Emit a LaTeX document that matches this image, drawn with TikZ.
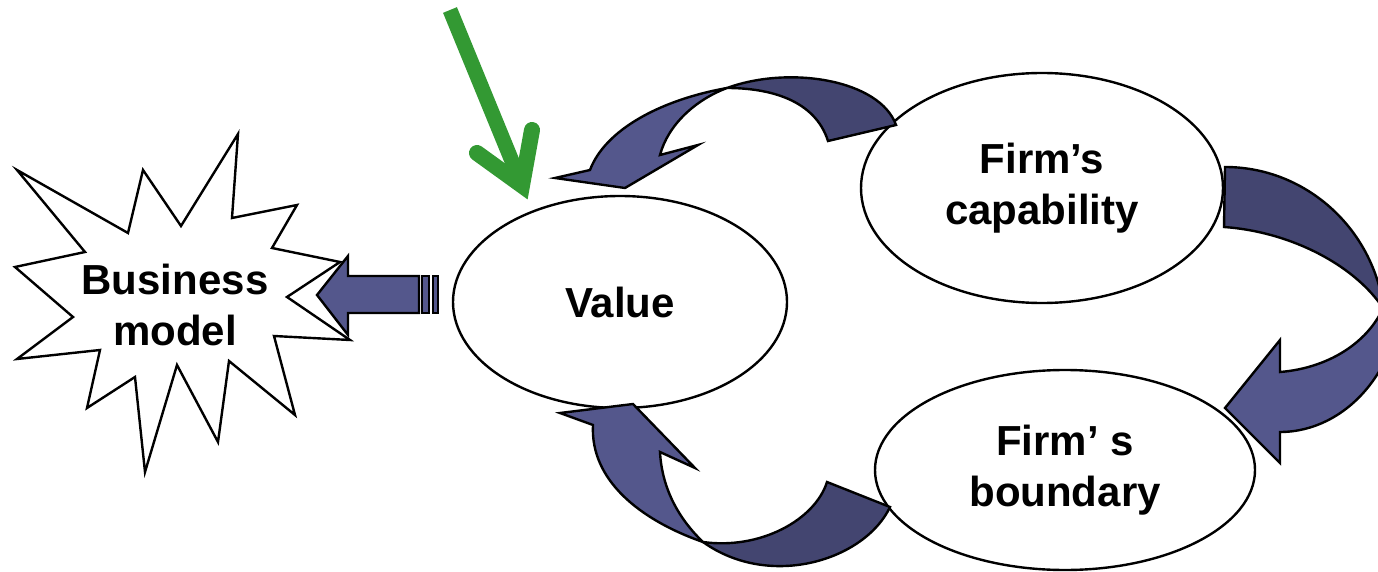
\documentclass[tikz,border=0pt]{standalone}
\usepackage{fontspec}
\setmainfont{Liberation Sans}
\usetikzlibrary{shapes.geometric}
\definecolor{bandlight}{RGB}{84,87,140}
\definecolor{banddark}{RGB}{67,69,112}
\definecolor{arrowgreen}{RGB}{51,153,51}
\begin{document}
\begin{tikzpicture}[x=1pt,y=-1pt,
  txt/.style={font=\fontsize{42}{51}\selectfont\bfseries, align=center},
  bubble/.style={ellipse, draw=black, line width=2.4pt, fill=white, inner sep=0pt, txt},
  band/.style={draw=black, line width=2.4pt, line join=miter},
  stripe/.style={draw=black, line width=2pt, fill=bandlight}]
\useasboundingbox (0,0) rectangle (1378,572);
\clip (0,0) rectangle (1378,572);

% the three ellipses
\node[bubble, minimum width=334pt, minimum height=212pt] (value) at (620,302) {Value};
\node[bubble, minimum width=362pt, minimum height=230pt] (capability) at (1042,188) {Firm’s\\capability};
\node[bubble, minimum width=380pt, minimum height=200pt] (boundary) at (1065,470) {Firm’ s\\boundary};

% starburst with its caption
\draw[line width=2.4pt, fill=white, line join=miter]
  (17,170) -- (128,233) -- (143,170) -- (181,226) -- (238,134) -- (232,218)
  -- (297,205) -- (272,248) -- (340,262) -- (287,297) -- (350,340) -- (274,336)
  -- (295,415) -- (229,361) -- (218,442) -- (177,365) -- (145,472) -- (135,377)
  -- (87,408) -- (100,350) -- (17,359) -- (73,317) -- (15,267) -- (85,252) -- cycle;
\node[txt] (bm) at (175,305) {Business\\model};

% striped block arrow from Value to the starburst
\draw[band, fill=bandlight] (419,276) -- (348,276) -- (348,256) -- (317,295)
  -- (348,335) -- (348,313) -- (419,313) -- cycle;
\draw[stripe] (422,276) rectangle (429,313);
\draw[stripe] (433,276) rectangle (438,313);

% curved arrow: capability -> value (over the top)
\draw[band, fill=banddark] (896,125) .. controls (880,80) and (790,65) .. (727,88)
  .. controls (770,88) and (815,100) .. (828,141) -- cycle;
\draw[band, fill=bandlight] (727,88) .. controls (660,100) and (605,130) .. (590,170)
  -- (555,178) -- (625,188) -- (698,145) -- (660,155)
  .. controls (668,125) and (695,100) .. (727,88) -- cycle;

% curved arrow: capability -> boundary (round the right side)
\draw[band, fill=banddark] (1225,167) .. controls (1313,167) and (1385,240) .. (1385,330)
  -- (1390,320) .. controls (1365,270) and (1295,232) .. (1224,227) -- cycle;
\draw[band, fill=bandlight] (1280,372) .. controls (1330,368) and (1375,340) .. (1388,295)
  -- (1400,295) .. controls (1400,370) and (1345,432) .. (1280,432)
  -- (1280,463) -- (1225,408) -- (1280,340) -- cycle;

% curved arrow: boundary -> value (under the bottom)
\draw[band, fill=banddark] (890,507) .. controls (865,560) and (770,590) .. (703,542)
  .. controls (760,550) and (815,520) .. (827,482) -- cycle;
\draw[band, fill=bandlight] (703,542) .. controls (640,520) and (590,480) .. (593,425)
  -- (560,413) -- (633,404) -- (695,468) -- (660,452)
  .. controls (662,490) and (680,520) .. (703,542) -- cycle;

% green pointer onto Value
\coordinate (gstart) at (450,10);
\coordinate (gtip) at (522,185.5);
\draw[arrowgreen, line width=15pt] (gstart) -- (gtip);
\draw[arrowgreen, line width=16pt, line cap=round, line join=miter]
  (477,153) -- (gtip) -- (532,130);
\end{tikzpicture}
\end{document}
